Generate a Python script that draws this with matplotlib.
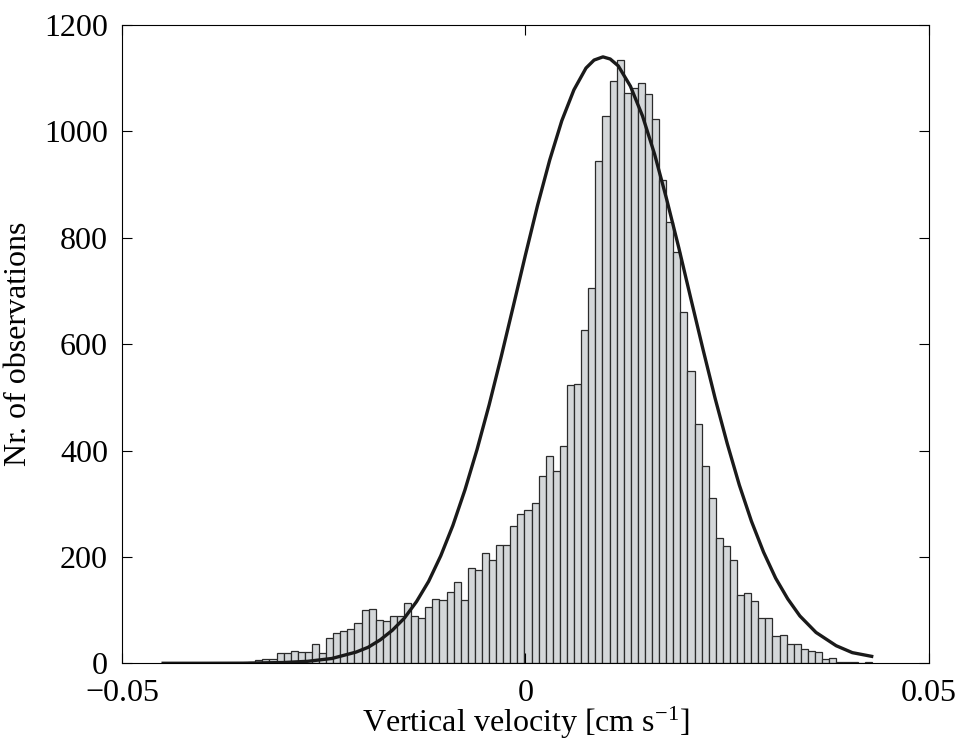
import numpy as np
import matplotlib
matplotlib.use("Agg")
import matplotlib.pyplot as plt

plt.rcParams['font.family'] = ['Liberation Serif', 'DejaVu Serif']
plt.rcParams['mathtext.fontset'] = 'custom'
plt.rcParams['mathtext.rm'] = 'Liberation Serif'
plt.rcParams['mathtext.default'] = 'regular'

# histogram: 100 bins between min and max of the observed velocities
v_min = -0.0449
v_max = 0.0429
counts = [0, 0, 0, 0, 0, 0, 0, 0, 0, 0,
          0, 1, 2, 6, 8, 8, 19, 20, 23, 21,
          21, 36, 19, 48, 56, 61, 65, 75, 100, 102,
          82, 79, 89, 88, 114, 89, 85, 105, 120, 119,
          134, 152, 119, 179, 176, 207, 194, 222, 223, 258,
          280, 288, 302, 353, 389, 362, 409, 523, 525, 627,
          706, 945, 1029, 1095, 1135, 1073, 1082, 1090, 1071, 1023,
          908, 829, 773, 660, 549, 449, 370, 311, 236, 221,
          194, 128, 133, 117, 86, 85, 52, 53, 36, 36,
          26, 24, 22, 8, 10, 3, 2, 2, 1, 2]

# fitted normal curve
fit_x = [-0.0449, -0.040, -0.035, -0.030, -0.027, -0.024, -0.021, -0.0195,
         -0.018, -0.0165, -0.015, -0.0135, -0.012, -0.0105, -0.009, -0.0075,
         -0.006, -0.0045, -0.003, -0.0015, 0.0, 0.0015, 0.003, 0.0045,
         0.006, 0.0075, 0.0085, 0.0096, 0.0105, 0.0115, 0.013, 0.0145,
         0.016, 0.0175, 0.019, 0.0205, 0.022, 0.0235, 0.025, 0.0265,
         0.028, 0.0295, 0.031, 0.0325, 0.034, 0.036, 0.0385, 0.0405, 0.0429]
fit_y = [0, 0.03, 0.2, 1.4, 3.7, 9, 21, 30,
         44, 62, 85, 116, 154, 202, 259, 326,
         402, 486, 577, 672, 768, 861, 946, 1020,
         1078, 1119, 1134, 1140, 1136, 1123, 1085, 1029,
         957, 872, 781, 685, 590, 498, 413, 335,
         267, 209, 160, 121, 89, 58, 33, 20, 13]

xticks = [-0.05, 0, 0.05]
xtick_labels = ['\u22120.05', '0', '0.05']
yticks = [0, 200, 400, 600, 800, 1000, 1200]

edges = np.linspace(v_min, v_max, len(counts) + 1)

fig = plt.figure(figsize=(9.59, 7.43), dpi=100)
ax = fig.add_axes([0.1272, 0.1073, 0.8415, 0.8591])

ax.bar(edges[:-1], counts, width=np.diff(edges), align='edge',
       facecolor='#d4d7d9', edgecolor='#2b2b2b', linewidth=0.9)
ax.plot(fit_x, fit_y, color='#1a1a1a', linewidth=2.4)

ax.set_xlim(-0.05, 0.05)
ax.set_ylim(0, 1200)
ax.set_xticks(xticks)
ax.set_xticklabels(xtick_labels)
ax.set_yticks(yticks)
ax.tick_params(direction='in', top=True, right=True, length=7, width=0.8,
               labelsize=23)
ax.tick_params(axis='x', pad=11)
ax.tick_params(axis='y', pad=10)
for s in ax.spines.values():
    s.set_linewidth(0.8)

ax.set_xlabel('Vertical velocity [cm s$^{-1}$]', fontsize=23, labelpad=-2)
ax.set_ylabel('Nr. of observations', fontsize=23, labelpad=8)

fig.savefig('out.png', dpi=100)
